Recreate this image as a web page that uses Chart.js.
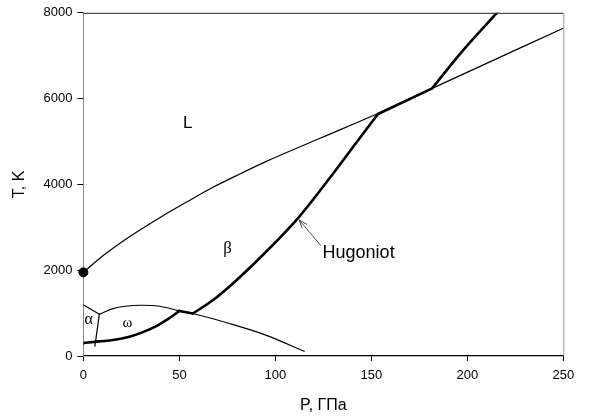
<!DOCTYPE html>
<html>
<head>
<meta charset="utf-8">
<script src="https://cdn.jsdelivr.net/npm/chart.js@4/dist/chart.umd.min.js"></script>
<style>
  html, body { margin: 0; padding: 0; background: #fff; }
</style>
</head>
<body>
<canvas id="phase" width="590" height="420"></canvas>
<script>
const fontType = '"Liberation Sans", Arial, sans-serif';
const serifType = '"Liberation Serif", "Times New Roman", serif';

/* melting curve */
const meltP = [0, 10, 24, 40, 55, 67, 80, 95, 123, 154, 182, 250];
const meltT = [1950, 2330, 2780, 3230, 3620, 3920, 4210, 4530, 5070, 5665, 6245, 7640];

/* shock hugoniot, split where it meets the phase lines */
const hugP1 = [0, 8, 15.5, 24, 31, 38, 44, 50];
const hugT1 = [300, 340, 371, 448, 556, 696, 858, 1051];
const hugP2 = [50, 57];
const hugT2 = [1051, 990];
const hugP3 = [57, 67.4, 79.6, 95.2, 112.5, 129.8, 143.6, 153.5];
const hugT3 = [990, 1299, 1762, 2430, 3250, 4236, 5060, 5640];
const hugP4 = [153.5, 181.7];
const hugT4 = [5640, 6240];
const hugP5 = [181.7, 197.2, 215.4];
const hugT5 = [6240, 7096, 8000];

/* omega / beta boundary */
const wbP = [8.3, 15.5, 22, 30, 39.7, 50.2, 57, 76, 95, 115];
const wbT = [975, 1106, 1160, 1183, 1159, 1051, 990, 758, 487, 110];

/* alpha / omega and alpha / beta */
const awP = [8.3, 6.0];
const awT = [975, 230];
const abP = [0, 8.3];
const abT = [1190, 975];

/* melting point at zero pressure */
const dotP = [0];
const dotT = [1950];

const xTicks = [0, 50, 100, 150, 200, 250];
const yTicks = [0, 2000, 4000, 6000, 8000];

/* text, P, T, font, align, baseline */
const labels = [
  ["L", 51.9, 5315, "17px " + fontType, "left", "alphabetic"],
  ["\u03b2", 75.1, 2504, "17px " + serifType, "center", "middle"],
  ["Hugoniot", 124.6, 2296, "18px " + fontType, "left", "alphabetic"],
  ["\u03b1", 2.75, 835, "16px " + serifType, "center", "middle"],
  ["\u03c9", 22.9, 777, "15px " + serifType, "center", "middle"]
];
const arrowFrom = [123.7, 2574];
const arrowTo = [112.4, 3170];

function pts(xs, ys) {
  return xs.map((x, i) => ({ x: x, y: ys[i] }));
}

function lineSet(xs, ys, w) {
  return {
    data: pts(xs, ys),
    showLine: true,
    borderColor: '#000',
    borderWidth: w,
    borderCapStyle: 'round',
    pointRadius: 0,
    cubicInterpolationMode: 'monotone',
    fill: false
  };
}

const framePlugin = {
  id: 'frame',
  afterDatasetsDraw(chart) {
    const { ctx, chartArea: a, scales } = chart;
    ctx.save();
    ctx.lineWidth = 1;
    ctx.strokeStyle = '#222';
    ctx.beginPath();
    ctx.moveTo(a.left, a.top + 0.5);
    ctx.lineTo(a.right, a.top + 0.5);
    ctx.stroke();
    ctx.strokeStyle = '#999';
    ctx.beginPath();
    ctx.moveTo(a.right + 0.5, a.top);
    ctx.lineTo(a.right + 0.5, a.bottom);
    ctx.stroke();

    ctx.fillStyle = '#000';
    labels.forEach((l) => {
      ctx.font = l[3];
      ctx.textAlign = l[4];
      ctx.textBaseline = l[5];
      ctx.fillText(l[0], scales.x.getPixelForValue(l[1]), scales.y.getPixelForValue(l[2]));
    });

    // arrow to the hugoniot
    let x0 = scales.x.getPixelForValue(arrowFrom[0]);
    let y0 = scales.y.getPixelForValue(arrowFrom[1]);
    let x1 = scales.x.getPixelForValue(arrowTo[0]);
    let y1 = scales.y.getPixelForValue(arrowTo[1]);
    let ang = Math.atan2(y1 - y0, x1 - x0);
    ctx.strokeStyle = '#222';
    ctx.lineWidth = 0.8;
    ctx.beginPath();
    ctx.moveTo(x0, y0);
    ctx.lineTo(x1, y1);
    ctx.moveTo(x1, y1);
    ctx.lineTo(x1 - 9 * Math.cos(ang - 0.35), y1 - 9 * Math.sin(ang - 0.35));
    ctx.moveTo(x1, y1);
    ctx.lineTo(x1 - 9 * Math.cos(ang + 0.35), y1 - 9 * Math.sin(ang + 0.35));
    ctx.stroke();
    ctx.restore();
  }
};

window.addEventListener("DOMContentLoaded", () => {
  let e = document.querySelector("#phase");
  let dot = {
    data: pts(dotP, dotT),
    showLine: false,
    pointRadius: 4.5,
    pointBackgroundColor: '#000',
    pointBorderColor: '#000',
    clip: false
  };
  new Chart(e, {
    type: 'scatter',
    data: {
      datasets: [
        lineSet(meltP, meltT, 1.2),
        lineSet(wbP, wbT, 1.2),
        lineSet(awP, awT, 1.2),
        lineSet(abP, abT, 1.2),
        lineSet(hugP1, hugT1, 2.6),
        lineSet(hugP2, hugT2, 2.6),
        lineSet(hugP3, hugT3, 2.6),
        lineSet(hugP4, hugT4, 2.6),
        lineSet(hugP5, hugT5, 2.6),
        dot
      ]
    },
    options: {
      responsive: false,
      animation: false,
      layout: {
        padding: { left: 0, right: 26.7, top: 11, bottom: 0 }
      },
      plugins: {
        legend: { display: false },
        tooltip: { enabled: false }
      },
      scales: {
        x: {
          type: 'linear',
          min: 0,
          max: 250,
          afterFit: (s) => { s.height = 64; },
          afterBuildTicks: (s) => { s.ticks = xTicks.map((v) => ({ value: v })); },
          border: { color: '#000', width: 1.2 },
          grid: { drawOnChartArea: false, drawTicks: true, tickLength: 5, color: '#000' },
          ticks: {
            padding: 7,
            color: '#000',
            font: { family: fontType, size: 13 },
            callback: (v) => String(v)
          },
          title: {
            display: true,
            text: 'P, ГПа',
            color: '#000',
            font: { family: fontType, size: 16 },
            padding: { top: 0, bottom: 4.4 }
          }
        },
        y: {
          type: 'linear',
          min: 0,
          max: 8000,
          afterFit: (s) => { s.width = 83.4; },
          afterBuildTicks: (s) => { s.ticks = yTicks.map((v) => ({ value: v })); },
          border: { color: '#888', width: 1 },
          grid: { drawOnChartArea: false, drawTicks: true, tickLength: 6, color: '#000' },
          ticks: {
            padding: 5,
            color: '#000',
            font: { family: fontType, size: 13 },
            callback: (v) => String(v)
          },
          title: {
            display: true,
            text: 'T, K',
            color: '#000',
            font: { family: fontType, size: 16 },
            padding: { top: 10.4, bottom: 0 }
          }
        }
      }
    },
    plugins: [framePlugin]
  });
});
</script>
</body>
</html>
